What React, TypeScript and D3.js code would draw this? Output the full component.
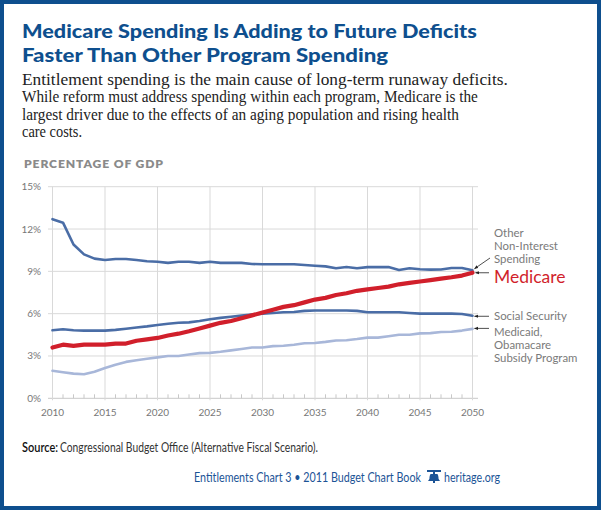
import React, { useLayoutEffect, useRef, useState } from "react";
import * as d3 from "d3";

const years = d3.range(2010, 2051);
const otherSpending = [12.7, 12.45, 10.9, 10.2, 9.9, 9.8, 9.87, 9.87, 9.8, 9.72, 9.68, 9.6, 9.68, 9.68, 9.6, 9.68, 9.6, 9.6, 9.6, 9.52, 9.5, 9.5, 9.5, 9.5, 9.45, 9.4, 9.35, 9.22, 9.31, 9.22, 9.3, 9.3, 9.3, 9.1, 9.22, 9.15, 9.12, 9.13, 9.24, 9.24, 9.08];
const medicare = [3.6, 3.8, 3.72, 3.8, 3.8, 3.8, 3.88, 3.88, 4.08, 4.18, 4.28, 4.45, 4.58, 4.75, 4.95, 5.15, 5.35, 5.48, 5.68, 5.88, 6.08, 6.28, 6.48, 6.6, 6.8, 7.0, 7.12, 7.32, 7.45, 7.62, 7.72, 7.82, 7.92, 8.08, 8.18, 8.28, 8.38, 8.48, 8.58, 8.7, 8.9];
const socialSecurity = [4.82, 4.9, 4.82, 4.8, 4.8, 4.8, 4.85, 4.93, 5.02, 5.1, 5.2, 5.28, 5.36, 5.38, 5.48, 5.6, 5.7, 5.78, 5.86, 5.93, 6.0, 6.05, 6.1, 6.12, 6.2, 6.22, 6.22, 6.22, 6.22, 6.2, 6.1, 6.1, 6.1, 6.1, 6.05, 6.0, 6.0, 6.0, 6.0, 5.98, 5.85];
const medicaid = [1.95, 1.85, 1.75, 1.7, 1.88, 2.15, 2.38, 2.58, 2.7, 2.8, 2.9, 3.0, 3.0, 3.1, 3.2, 3.22, 3.3, 3.4, 3.5, 3.6, 3.6, 3.7, 3.72, 3.8, 3.9, 3.92, 4.0, 4.1, 4.12, 4.2, 4.3, 4.3, 4.4, 4.5, 4.5, 4.6, 4.62, 4.7, 4.72, 4.8, 4.92];
const yTicks = [0, 3, 6, 9, 12, 15];
const xTicks = [2010, 2015, 2020, 2025, 2030, 2035, 2040, 2045, 2050];

const titleLines = ["Medicare Spending Is Adding to Future Deficits", "Faster Than Other Program Spending"];
const subtitleLines = [
  "Entitlement spending is the main cause of long-term runaway deficits.",
  "While reform must address spending within each program, Medicare is the",
  "largest driver due to the effects of an aging population and rising health",
  "care costs.",
];
const otherLabel = ["Other", "Non-Interest", "Spending"];
const medicaidLabel = ["Medicaid,", "Obamacare", "Subsidy Program"];

const BLUE = "#0e4f8e";
const DARK = "#4a6da6";
const LIGHT = "#a8b7d9";
const RED = "#d11f2b";
const GRID = "#d9d9d9";
const SANS = "Lato, 'Open Sans', sans-serif";
const SERIF = "'Liberation Serif', 'DejaVu Serif', serif";

function FitText(props: any) {
  const { x, y, width, children, ...rest } = props;
  const ref = useRef<SVGTextElement>(null);
  const [s, setS] = useState(1);
  useLayoutEffect(() => {
    const measure = () => {
      if (!ref.current) return;
      const w = ref.current.getComputedTextLength();
      if (w > 0) setS(width / w);
    };
    measure();
    if ((document as any).fonts) (document as any).fonts.ready.then(measure);
  }, [width]);
  return (
    <text ref={ref} transform={`translate(${x},${y}) scale(${s},1)`} {...rest}>
      {children}
    </text>
  );
}

export default function App() {
  const x = d3.scaleLinear().domain([2010, 2050]).range([52.5, 472.5]);
  const y = d3.scaleLinear().domain([0, 15]).range([398.3, 186.7]);
  const line = (vals: number[]) =>
    d3.line<number>().x((_, i) => x(years[i])).y((d) => y(d)).curve(d3.curveLinear)(vals) || "";

  const series = [
    { vals: medicaid, color: LIGHT, w: 2.6 },
    { vals: socialSecurity, color: DARK, w: 2.6 },
    { vals: otherSpending, color: DARK, w: 2.6 },
    { vals: medicare, color: RED, w: 4.2 },
  ];

  const endX = x(2050);
  const arrow = (x1: number, y1: number, x2: number, y2: number, key: string) => (
    <line key={key} x1={x1} y1={y1} x2={x2} y2={y2} stroke="#222" strokeWidth={0.8} markerEnd="url(#arr)" />
  );

  const subWidths = [486, 456, 437, 60];
  const titleWidths = [455, 366];

  return (
    <svg width={601} height={510} style={{ position: "absolute", left: 0, top: 0 }} fontFamily={SANS}>
      <defs>
        <marker id="arr" viewBox="0 0 10 10" refX={9} refY={5} markerWidth={5} markerHeight={5} orient="auto">
          <path d="M0,1 L10,5 L0,9 z" fill="#222" />
        </marker>
      </defs>
      <rect x={0} y={0} width={601} height={510} fill="#fff" />
      <rect x={2} y={2} width={597} height={506} fill="none" stroke={BLUE} strokeWidth={4} />

      {titleLines.map((t, i) => (
        <FitText key={t} x={22} y={38 + i * 23.5} width={titleWidths[i]} fontSize={19.5} fontWeight={900} fill={BLUE}>{t}</FitText>
      ))}
      {subtitleLines.map((t, i) => (
        <FitText key={t} x={22} y={85 + i * 17.3} width={subWidths[i]} fontSize={16.5} fill="#222" fontFamily={SERIF}>{t}</FitText>
      ))}

      <FitText x={24} y={168} width={140} fontSize={11} fontWeight={800} fill="#8a8a8a" letterSpacing={0.8}>PERCENTAGE OF GDP</FitText>

      {yTicks.map((t) => (
        <g key={t}>
          <line x1={48} x2={478} y1={y(t)} y2={y(t)} stroke={t === 0 ? "#c8c8c8" : GRID} strokeWidth={1} />
          <text x={41} y={y(t) + 3.5} fontSize={10} fill="#777" textAnchor="end">{t}%</text>
        </g>
      ))}
      {xTicks.map((t) => (
        <g key={t}>
          <line x1={x(t)} x2={x(t)} y1={y(15)} y2={y(0) + 2} stroke={GRID} strokeWidth={1} />
          <text x={x(t)} y={416} fontSize={10} fill="#777" textAnchor="middle">{t}</text>
        </g>
      ))}
      {years.filter((yr) => yr % 5 !== 0).map((yr) => (
        <line key={yr} x1={x(yr)} x2={x(yr)} y1={y(0) - 4} y2={y(0)} stroke="#c8c8c8" strokeWidth={1} />
      ))}

      {series.map((s, i) => (
        <path key={i} d={line(s.vals)} fill="none" stroke={s.color} strokeWidth={s.w}
          strokeLinejoin="round" strokeLinecap="round" />
      ))}

      {arrow(490, 258, endX + 2, y(otherSpending[40]) - 1.5, "a1")}
      {arrow(489, y(medicare[40]), endX + 3, y(medicare[40]), "a2")}
      {arrow(489, y(socialSecurity[40]) + 0.5, endX + 2, y(socialSecurity[40]) + 0.5, "a3")}
      {arrow(489, y(medicaid[40]) - 0.5, endX + 2, y(medicaid[40]) - 0.5, "a4")}

      {otherLabel.map((t, i) => (
        <text key={t} x={494} y={237 + i * 12.8} fontSize={11.4} fill="#7a7a7a">{t}</text>
      ))}
      <text x={494} y={283} fontSize={17.5} fill={RED}>Medicare</text>
      <text x={494} y={319.5} fontSize={11.4} fill="#7a7a7a">Social Security</text>
      {medicaidLabel.map((t, i) => (
        <text key={t} x={494} y={336} dy={i * 12.8} fontSize={11.4} fill="#7a7a7a">{t}</text>
      ))}

      <FitText x={22} y={452} width={36} fontSize={13.5} fill="#111" fontWeight={600}>Source:</FitText>
      <FitText x={60} y={452} width={258} fontSize={13.5} fill="#333">Congressional Budget Office (Alternative Fiscal Scenario).</FitText>

      <FitText x={194} y={482} width={227} fontSize={13.5} fill="#1c5496">Entitlements Chart 3 • 2011 Budget Chart Book</FitText>
      <g transform="translate(427,470)" fill="#1c5496">
        <rect x={0} y={0} width={14} height={2} />
        <rect x={6} y={2} width={2} height={2} />
        <path d="M4,4 L10,4 C11,4 11.5,6 11.6,9 L13,11 L1,11 L2.4,9 C2.5,6 3,4 4,4 Z" />
        <rect x={6} y={11} width={2} height={2} />
      </g>
      <FitText x={444} y={482} width={56} fontSize={13.5} fill="#1c5496">heritage.org</FitText>
    </svg>
  );
}
